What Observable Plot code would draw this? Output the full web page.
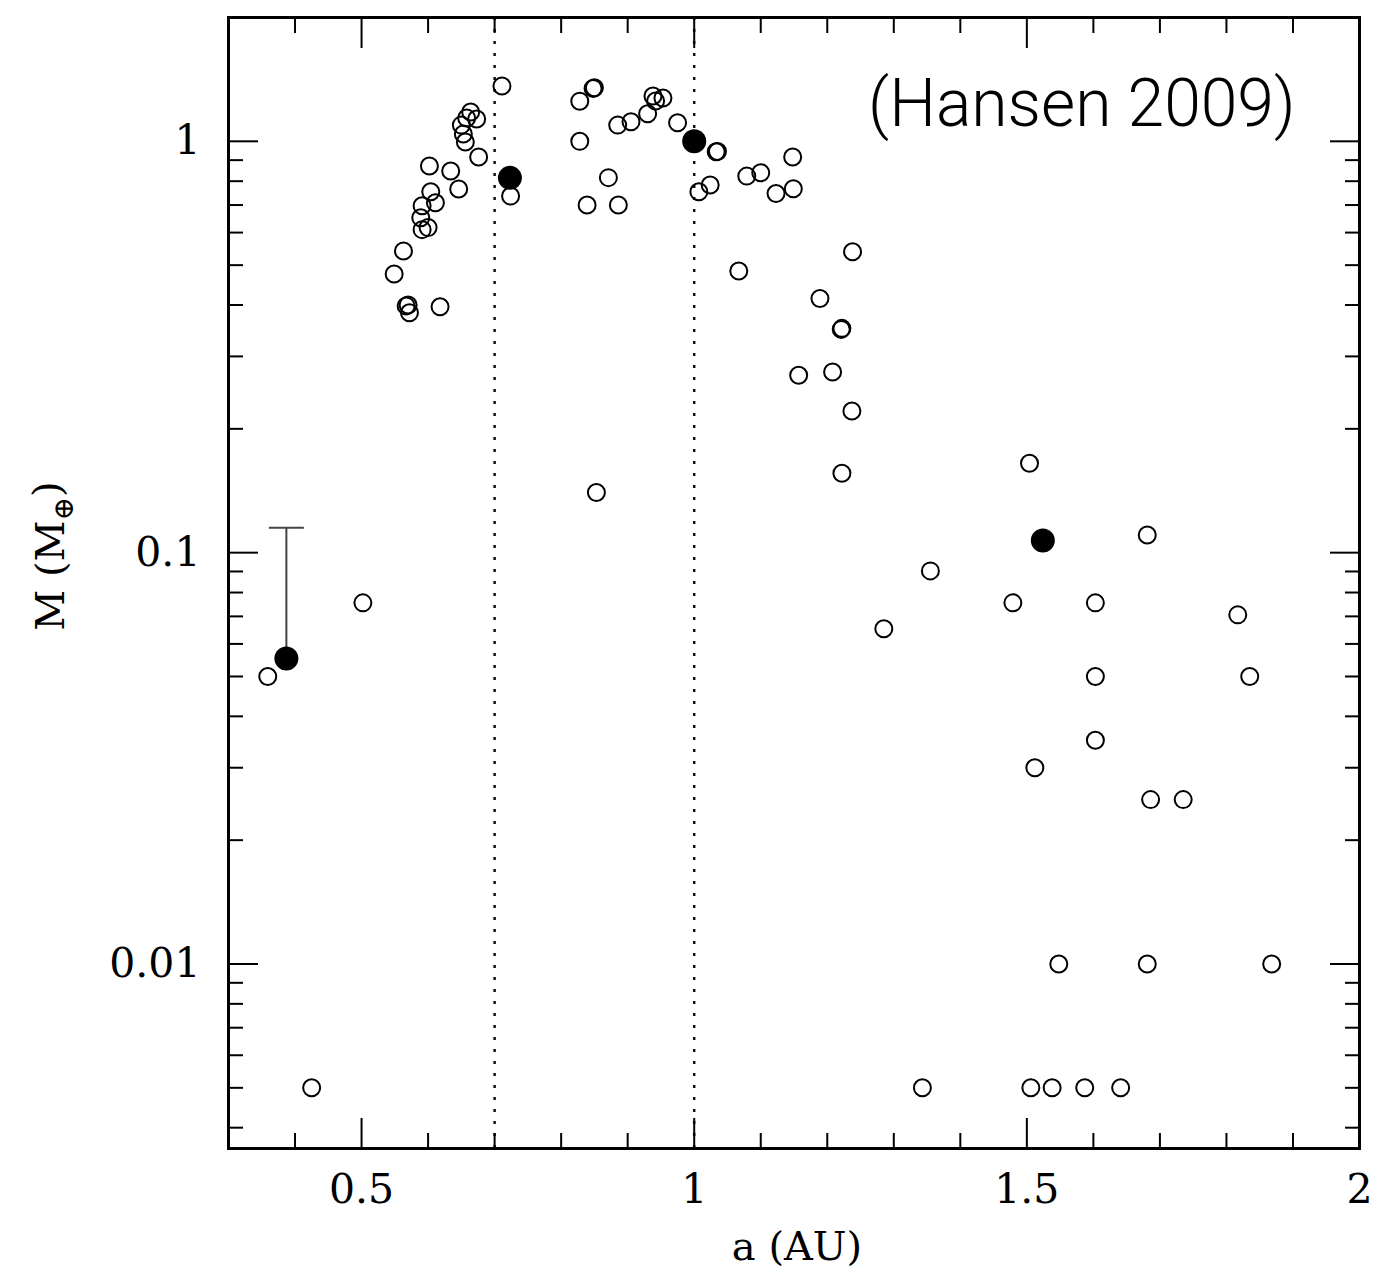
<!DOCTYPE html>
<html>
<head>
<meta charset="utf-8">
<script src="https://cdn.jsdelivr.net/npm/d3@7"></script>
<script src="https://cdn.jsdelivr.net/npm/@observablehq/plot@0.6"></script>
<style>
  html, body { margin: 0; padding: 0; background: #fff; }
  #chart { width: 1374px; height: 1280px; }
</style>
</head>
<body>
<div id="chart"></div>
<script>
// ---- data ----
const simA = [0.359, 0.425, 0.502, 0.549, 0.563, 0.567, 0.570, 0.572, 0.618, 0.589,
  0.591, 0.591, 0.600, 0.604, 0.611, 0.602, 0.634, 0.646, 0.650, 0.653,
  0.656, 0.658, 0.664, 0.673, 0.676, 0.711, 0.724, 0.828, 0.848, 0.850,
  0.828, 0.871, 0.839, 0.886, 0.885, 0.905, 0.930, 0.938, 0.942, 0.953,
  0.975, 1.033, 1.035, 1.007, 1.024, 1.079, 1.100, 1.123, 1.148, 1.149,
  1.067, 1.238, 1.189, 1.221, 1.222, 1.157, 1.208, 1.237, 1.222, 0.853,
  1.504, 1.285, 1.355, 1.479, 1.681, 1.603, 1.817, 1.835, 1.603, 1.603,
  1.512, 1.686, 1.735, 1.548, 1.681, 1.868, 1.343, 1.506, 1.538, 1.587, 1.641];
const simM = [0.050, 0.005, 0.0755, 0.476, 0.541, 0.398, 0.400, 0.383, 0.396, 0.652,
  0.697, 0.610, 0.617, 0.754, 0.709, 0.871, 0.847, 0.766, 1.095, 1.042,
  0.996, 1.139, 1.178, 1.133, 0.916, 1.363, 0.736, 1.252, 1.345, 1.350,
  1.000, 0.816, 0.700, 0.700, 1.095, 1.116, 1.167, 1.289, 1.253, 1.274,
  1.110, 0.943, 0.945, 0.754, 0.783, 0.823, 0.839, 0.747, 0.916, 0.767,
  0.484, 0.539, 0.415, 0.349, 0.351, 0.270, 0.275, 0.221, 0.156, 0.140,
  0.165, 0.0653, 0.0903, 0.0755, 0.1104, 0.0755, 0.0706, 0.050, 0.050, 0.035,
  0.030, 0.0251, 0.0251, 0.010, 0.010, 0.010, 0.005, 0.005, 0.005, 0.005, 0.005];

const planetNames = ["Mercury", "Venus", "Earth", "Mars"];
const planetA = [0.387, 0.723, 1.0, 1.524];
const planetM = [0.0553, 0.815, 1.0, 0.107];
const mercuryUpper = 0.115;   // upper end of Mercury's error bar

const xMajor = [0.5, 1, 1.5];
const xMinor = [0.4, 0.6, 0.7, 0.8, 0.9, 1.1, 1.2, 1.3, 1.4, 1.6, 1.7, 1.8, 1.9];
const xLabels = [0.5, 1, 1.5, 2];
const yMajor = [0.01, 0.1, 1];
const yMinor = [0.004, 0.005, 0.006, 0.007, 0.008, 0.009,
  0.02, 0.03, 0.04, 0.05, 0.06, 0.07, 0.08, 0.09,
  0.2, 0.3, 0.4, 0.5, 0.6, 0.7, 0.8, 0.9];
const yLabels = [0.01, 0.1, 1];
const vLines = [0.7, 1.0];

const sims = simA.map((a, i) => ({a, m: simM[i]}));
const planets = planetA.map((a, i) => ({name: planetNames[i], a, m: planetM[i]}));
const mercErr = [{a: planetA[0], lo: planetM[0], hi: mercuryUpper}];

const capSymbol = {
  draw(context, size) {
    const w = Math.sqrt(size / Math.PI);
    context.moveTo(-w, 0);
    context.lineTo(w, 0);
  }
};

const serif = "DejaVu Serif";
const minorLen = 15, majorLen = 30, tickW = 2;

const chart = Plot.plot({
  width: 1374,
  height: 1280,
  marginLeft: 228,
  marginRight: 15,
  marginTop: 17,
  marginBottom: 132,
  style: {fontFamily: serif, fontSize: "41px", background: "#fff", color: "#000"},
  x: {type: "linear", domain: [0.3, 2]},
  y: {type: "log", domain: [0.00356, 2]},
  marks: [
    // dotted reference lines
    Plot.ruleX(vLines, {stroke: "#111", strokeWidth: 2.5, strokeDasharray: "3,9"}),
    // ticks — bottom & top
    Plot.axisX(xMinor, {anchor: "bottom", tickSize: minorLen, dy: -minorLen, text: null, label: null, strokeWidth: tickW}),
    Plot.axisX(xMajor, {anchor: "bottom", tickSize: majorLen, dy: -majorLen, text: null, label: null, strokeWidth: tickW}),
    Plot.axisX(xMinor, {anchor: "top", tickSize: minorLen, dy: minorLen, text: null, label: null, strokeWidth: tickW}),
    Plot.axisX(xMajor, {anchor: "top", tickSize: majorLen, dy: majorLen, text: null, label: null, strokeWidth: tickW}),
    // ticks — left & right
    Plot.axisY(yMinor, {anchor: "left", tickSize: minorLen, dx: minorLen, text: null, label: null, strokeWidth: tickW}),
    Plot.axisY(yMajor, {anchor: "left", tickSize: majorLen, dx: majorLen, text: null, label: null, strokeWidth: tickW}),
    Plot.axisY(yMinor, {anchor: "right", tickSize: minorLen, dx: -minorLen, text: null, label: null, strokeWidth: tickW}),
    Plot.axisY(yMajor, {anchor: "right", tickSize: majorLen, dx: -majorLen, text: null, label: null, strokeWidth: tickW}),
    // tick labels
    Plot.axisX(xLabels, {anchor: "bottom", tickSize: 0, tickPadding: 25, label: null, tickFormat: d => String(d), fontSize: 41}),
    Plot.axisY(yLabels, {anchor: "left", tickSize: 0, tickPadding: 28, label: null, tickFormat: d => String(d), fontSize: 41}),
    // frame
    Plot.frame({stroke: "#000", strokeWidth: 3}),
    // Mercury error bar
    Plot.ruleX(mercErr, {x: "a", y1: "lo", y2: "hi", stroke: "#444", strokeWidth: 2}),
    Plot.dot(mercErr, {x: "a", y: "hi", symbol: capSymbol, r: 17.5, stroke: "#444", strokeWidth: 2, fill: "none"}),
    // simulated planets (open)
    Plot.dot(sims, {x: "a", y: "m", r: 8.5, stroke: "#000", strokeWidth: 2, fill: "none"}),
    // solar system planets (filled)
    Plot.dot(planets, {x: "a", y: "m", r: 12, fill: "#000", stroke: "none"}),
    // axis titles
    Plot.text(["a (AU)"], {frameAnchor: "bottom", textAnchor: "middle", dx: 3, dy: 99, lineAnchor: "middle", fontSize: 40, fontFamily: serif}),
    Plot.text(["M (M⊕)"], {frameAnchor: "left", textAnchor: "middle", rotate: -90, dx: -177, dy: -27, lineAnchor: "middle", fontSize: 40, fontFamily: serif}),
    // annotation
    Plot.text(["(Hansen 2009)"], {frameAnchor: "top-right", textAnchor: "end", dx: -64, dy: 87, lineAnchor: "middle",
      fontSize: 66, fontFamily: "Roboto", fontWeight: 300})
  ]
});

// render the ⊕ as a subscript
d3.select(chart).selectAll("text").each(function () {
  if (this.textContent === "M (M⊕)") {
    const t = d3.select(this);
    t.text(null);
    t.append("tspan").text("M (M");
    t.append("tspan").attr("dy", "0.3em").attr("font-size", "0.7em").text("⊕");
    t.append("tspan").attr("dy", "-0.3em").text(")");
  }
});

document.getElementById("chart").appendChild(chart);
</script>
</body>
</html>
